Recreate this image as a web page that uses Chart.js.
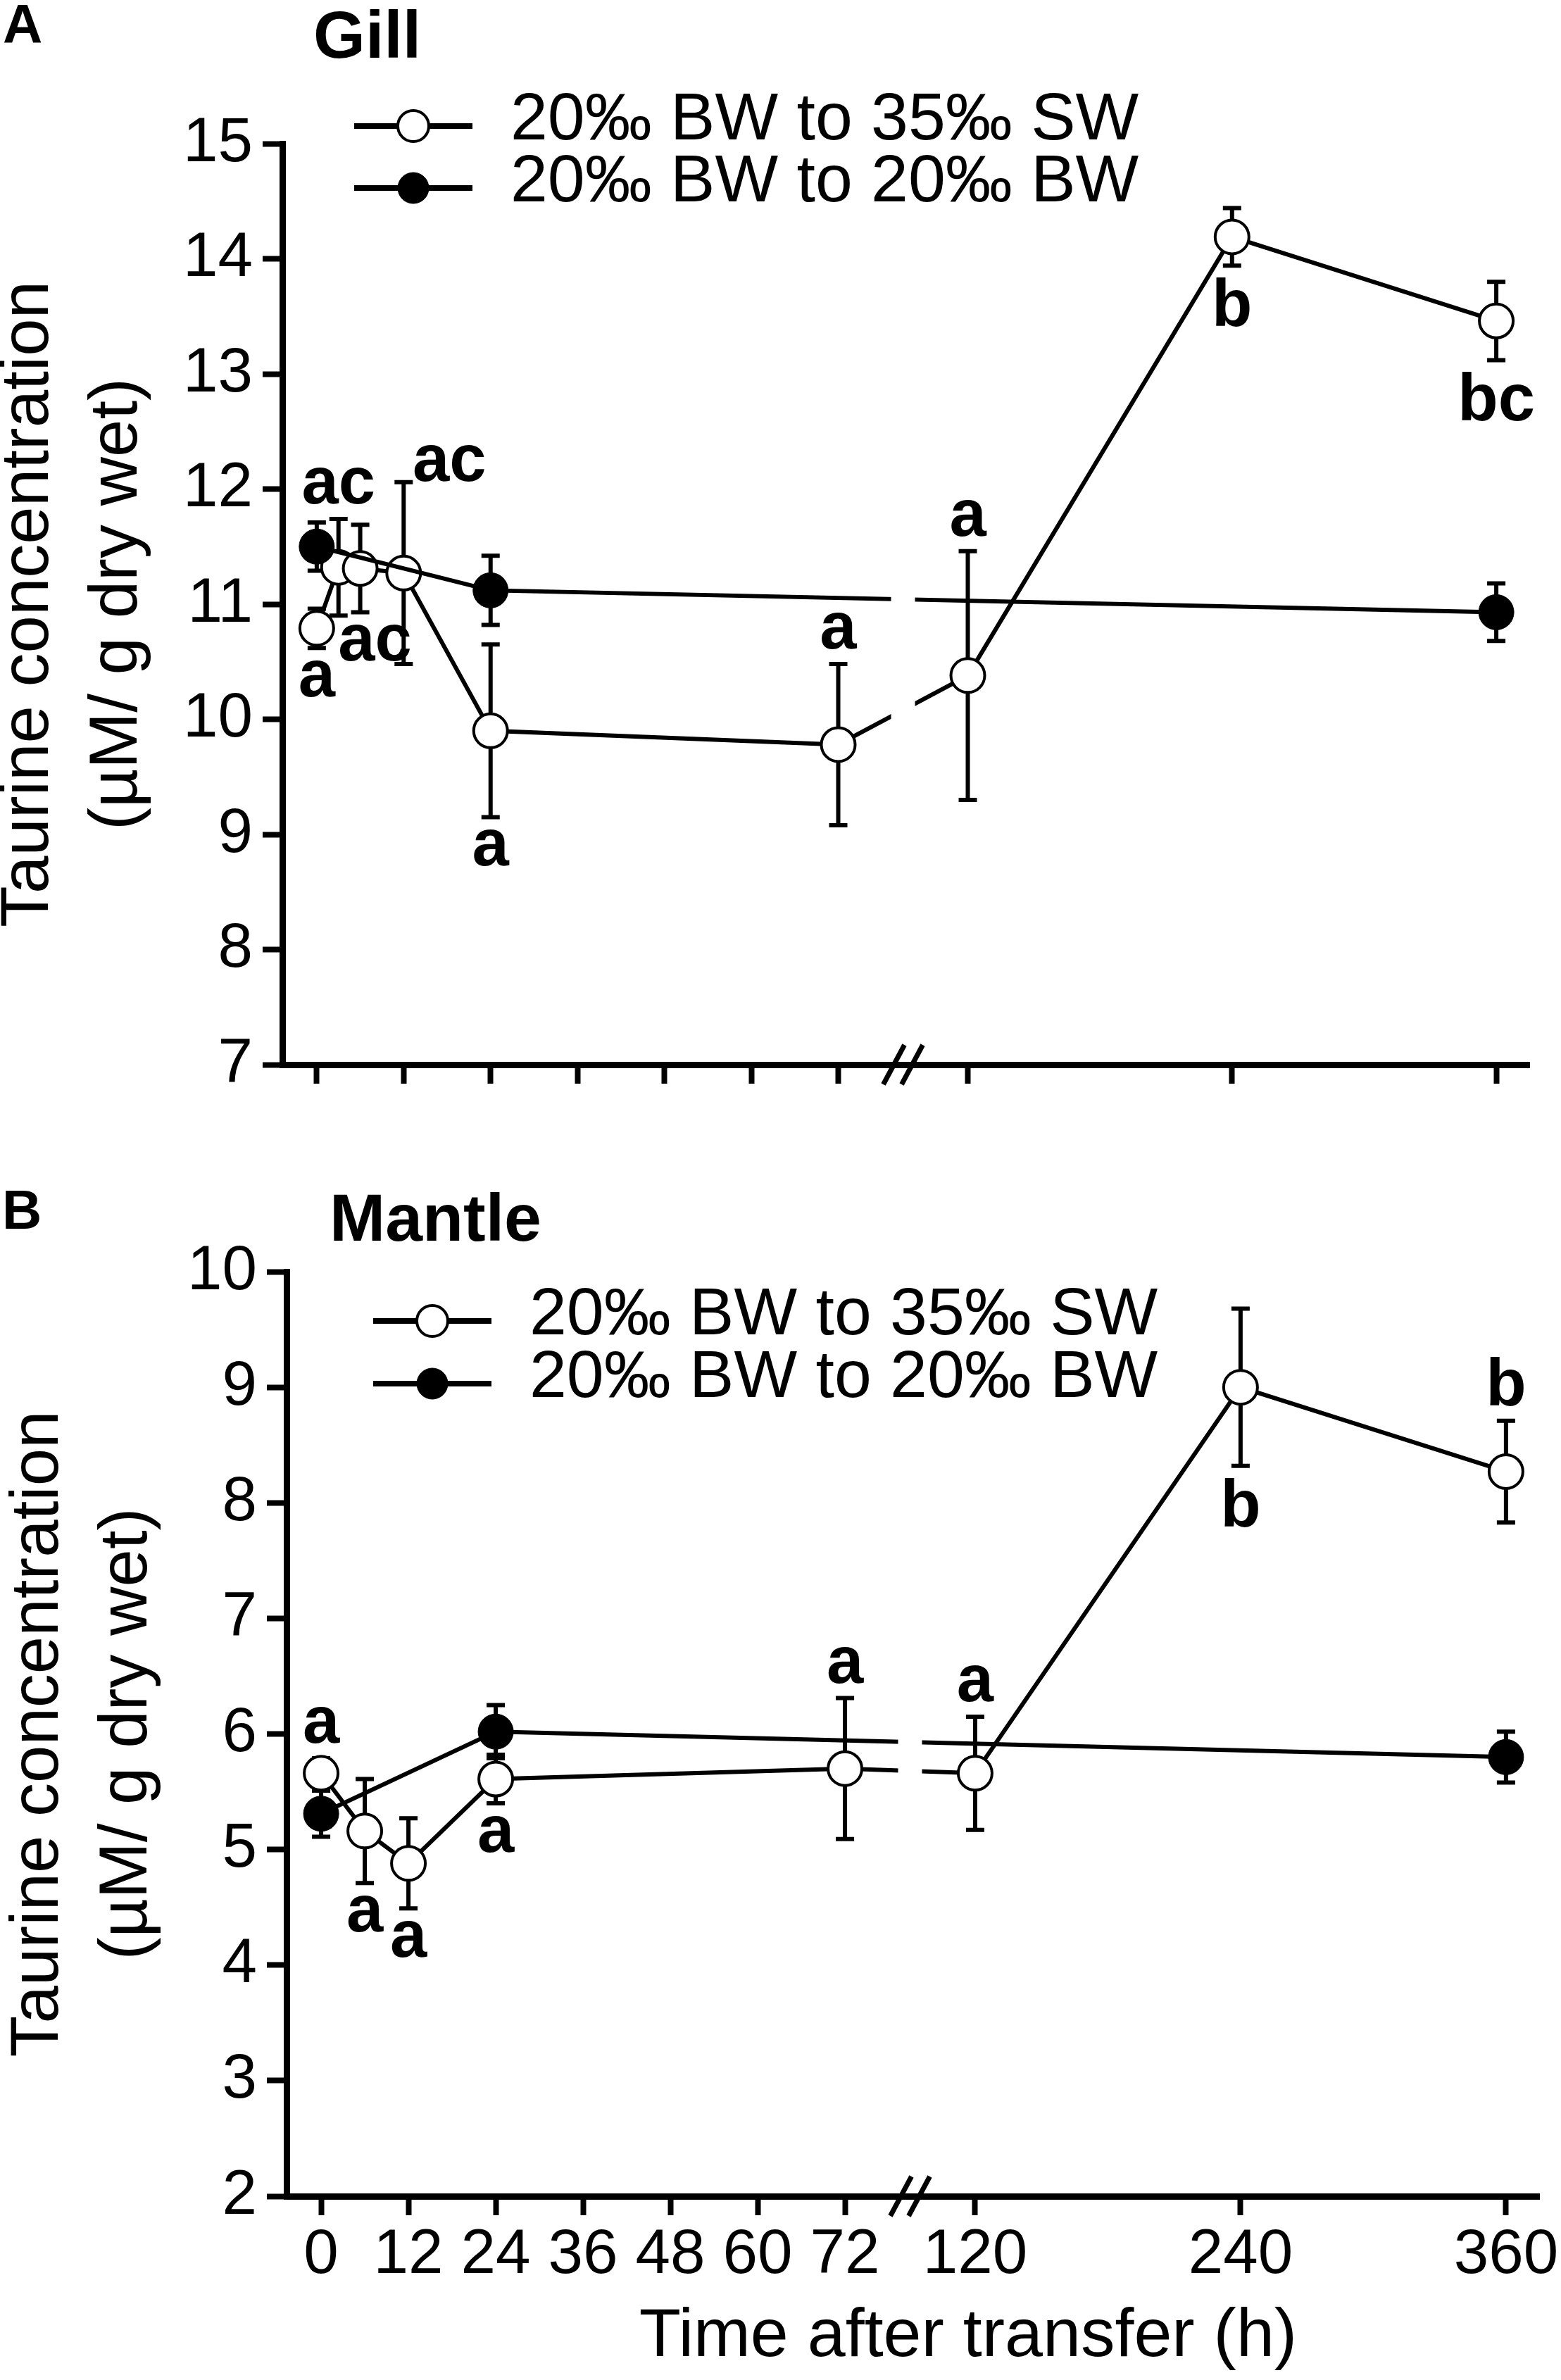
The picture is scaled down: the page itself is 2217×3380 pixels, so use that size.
<!DOCTYPE html>
<html>
<head>
<meta charset="utf-8">
<script src="https://cdn.jsdelivr.net/npm/chart.js@4.4.1/dist/chart.umd.min.js"></script>
<style>
  html, body { margin: 0; padding: 0; background: #fff; }
  canvas { display: block; }
</style>
</head>
<body>
<canvas id="gill" width="2217" height="1600"></canvas>
<canvas id="mantle" width="2217" height="1780"></canvas>
<script>
const hourTicks = [0, 12, 24, 36, 48, 60, 72, 120, 240, 360];
const seriesNames = ['20‰ BW to 35‰ SW', '20‰ BW to 20‰ BW'];
const yTitle = ['Taurine concentration', '(µM/ g dry wet)'];
const xTitle = 'Time after transfer (h)';

// Gill: transfer to sea water (open circles)
const gillSwHours = [0, 3, 6, 12, 24, 72, 120, 240, 360];
const gillSw = [10.79, 11.32, 11.31, 11.27, 9.90, 9.78, 10.38, 14.19, 13.46];
const gillSwSem = [0.17, 0.42, 0.38, 0.79, 0.75, 0.70, 1.08, 0.25, 0.34];
const gillSwLetters = ['a', 'ac', 'ac', 'ac', 'a', 'a', 'a', 'b', 'bc'];
const gillSwLetterSide = ['below', 'above', 'below', 'above', 'below', 'above', 'above', 'below', 'below'];

// control, kept in brackish water (filled circles)
const bwHours = [0, 24, 360];
const gillBw = [11.50, 11.12, 10.93];
const gillBwSem = [0.21, 0.30, 0.25];

// Mantle
const mantleSwHours = [0, 6, 12, 24, 72, 120, 240, 360];
const mantleSw = [5.66, 5.16, 4.88, 5.61, 5.70, 5.66, 9.00, 8.27];
const mantleSwSem = [0.13, 0.45, 0.39, 0.21, 0.61, 0.49, 0.68, 0.44];
const mantleSwLetters = ['a', 'a', 'a', 'a', 'a', 'a', 'b', 'b'];
const mantleSwLetterSide = ['above', 'below', 'below', 'below', 'above', 'above', 'below', 'above'];
const mantleBw = [5.31, 6.02, 5.80];
const mantleBwSem = [0.20, 0.23, 0.22];

const FONT = '"Liberation Sans", Arial, Helvetica, sans-serif';
Chart.defaults.font.family = FONT;
Chart.defaults.color = '#000';

// linear axis with a break between two hour ranges
class BrokenScale extends Chart.LinearScale {
  buildTicks() {
    this.start = this.min;
    this.end = this.max;
    return this.options.tickValues.map(v => ({ value: v }));
  }
  toDecimal(v) {
    const s = this.options.split;
    if (v <= s.gapFrom) return (v - this.min) / (s.gapFrom - this.min) * s.gapStart;
    if (v >= s.gapTo) return s.gapEnd + (v - s.gapTo) / (this.max - s.gapTo) * (1 - s.gapEnd);
    return s.gapStart + (v - s.gapFrom) / (s.gapTo - s.gapFrom) * (s.gapEnd - s.gapStart);
  }
  getPixelForValue(v) {
    return this.getPixelForDecimal(this.toDecimal(v));
  }
  getValueForPixel(p) {
    const s = this.options.split;
    const d = this.getDecimalForPixel(p);
    if (d <= s.gapStart) return this.min + d / s.gapStart * (s.gapFrom - this.min);
    if (d >= s.gapEnd) return s.gapTo + (d - s.gapEnd) / (1 - s.gapEnd) * (this.max - s.gapTo);
    return s.gapFrom + (d - s.gapStart) / (s.gapEnd - s.gapStart) * (s.gapTo - s.gapFrom);
  }
}
BrokenScale.id = 'broken';
BrokenScale.defaults = {};
Chart.register(BrokenScale);

const errorBars = {
  id: 'errorBars',
  beforeDatasetsDraw(chart, args, opts) {
    const ctx = chart.ctx, y = chart.scales.y;
    ctx.save();
    ctx.strokeStyle = '#000';
    ctx.lineWidth = opts.width;
    chart.data.datasets.forEach((ds, i) => {
      chart.getDatasetMeta(i).data.forEach((pt, j) => {
        const v = ds.data[j].y, e = ds.sem[j];
        const top = y.getPixelForValue(v + e), bot = y.getPixelForValue(v - e);
        ctx.beginPath();
        ctx.moveTo(pt.x, top); ctx.lineTo(pt.x, bot);
        ctx.moveTo(pt.x - opts.cap, top); ctx.lineTo(pt.x + opts.cap, top);
        ctx.moveTo(pt.x - opts.cap, bot); ctx.lineTo(pt.x + opts.cap, bot);
        ctx.stroke();
      });
    });
    ctx.restore();
  },
  afterDatasetsDraw(chart, args, opts) {
    const ctx = chart.ctx, y = chart.scales.y;
    ctx.save();
    ctx.fillStyle = '#000';
    ctx.font = 'bold 94px ' + FONT;
    ctx.textAlign = 'center';
    ctx.textBaseline = 'alphabetic';
    chart.data.datasets.forEach((ds, i) => {
      if (!ds.letters) return;
      const pts = chart.getDatasetMeta(i).data;
      ds.letters.forEach((txt, j) => {
        const v = ds.data[j].y, e = ds.sem[j];
        const nudge = (opts.nudge && opts.nudge[j]) || [0, 0];
        let base;
        if (ds.letterSide[j] === 'above') {
          base = y.getPixelForValue(v + e) - 22;
        } else {
          base = y.getPixelForValue(v - e) + 20 + (/[bdhkl]/.test(txt) ? 66 : 49);
        }
        ctx.fillText(txt, pts[j].x + nudge[0], base + nudge[1]);
      });
    });
    ctx.restore();
  }
};

const panelDecor = {
  id: 'panelDecor',
  afterDatasetsDraw(chart, args, opts) {
    // open the lines where they cross the axis break
    const x = chart.scales.x, area = chart.chartArea, ctx = chart.ctx;
    const s = x.options.split;
    const cx = (x.getPixelForValue(s.gapFrom) + x.getPixelForValue(s.gapTo)) / 2;
    ctx.save();
    ctx.fillStyle = '#fff';
    ctx.fillRect(cx - 17, area.top, 34, area.bottom - area.top - 6);
    ctx.restore();
  },
  afterDraw(chart, args, opts) {
    const x = chart.scales.x, area = chart.chartArea, ctx = chart.ctx;
    const s = x.options.split;
    const cx = (x.getPixelForValue(s.gapFrom) + x.getPixelForValue(s.gapTo)) / 2;
    ctx.save();
    ctx.strokeStyle = '#000';
    ctx.lineWidth = 7;
    [-13, 13].forEach(off => {
      ctx.beginPath();
      ctx.moveTo(cx + off - 15, area.bottom + 28);
      ctx.lineTo(cx + off + 15, area.bottom - 28);
      ctx.stroke();
    });

    // legend: line with the marker through it
    const lg = opts.legend;
    ctx.font = '95px ' + FONT;
    ctx.textAlign = 'left';
    ctx.textBaseline = 'middle';
    chart.data.datasets.forEach((ds, i) => {
      const yy = lg.rows[i];
      ctx.lineWidth = 8;
      ctx.beginPath();
      ctx.moveTo(lg.x0, yy); ctx.lineTo(lg.x1, yy);
      ctx.stroke();
      ctx.beginPath();
      ctx.arc((lg.x0 + lg.x1) / 2, yy, 22, 0, Math.PI * 2);
      ctx.fillStyle = ds.pointBackgroundColor;
      ctx.fill();
      ctx.lineWidth = ds.pointBorderWidth;
      ctx.stroke();
      ctx.fillStyle = '#000';
      ctx.fillText(ds.label, lg.textX, yy - 7);
    });

    ctx.textBaseline = 'alphabetic';
    ctx.font = 'bold 78px ' + FONT;
    ctx.fillText(opts.letter.text, opts.letter.x, opts.letter.y);
    ctx.font = 'bold 95px ' + FONT;
    ctx.fillText(opts.name.text, opts.name.x, opts.name.y);
    if (opts.xTitle) {
      ctx.font = '97px ' + FONT;
      ctx.textAlign = 'center';
      ctx.fillText(opts.xTitle.text, opts.xTitle.x, opts.xTitle.y);
    }
    ctx.restore();
  }
};

const toPoints = (hours, values) => hours.map((h, i) => ({ x: h, y: values[i] }));

function buildPanel(canvasId, p) {
  const canvas = document.getElementById(canvasId);
  return new Chart(canvas, {
    type: 'line',
    data: {
      datasets: [{
        label: seriesNames[0],
        data: toPoints(p.swHours, p.sw),
        sem: p.swSem,
        letters: p.letters,
        letterSide: p.letterSide,
        borderColor: '#000',
        borderWidth: 6,
        pointRadius: 24,
        pointBackgroundColor: '#fff',
        pointBorderColor: '#000',
        pointBorderWidth: 4,
        tension: 0,
        clip: false,
        order: 1
      }, {
        label: seriesNames[1],
        data: toPoints(bwHours, p.bw),
        sem: p.bwSem,
        borderColor: '#000',
        borderWidth: 6,
        pointRadius: 25,
        pointBackgroundColor: '#000',
        pointBorderColor: '#000',
        pointBorderWidth: 1,
        tension: 0,
        clip: false,
        order: 0
      }]
    },
    options: {
      responsive: false,
      devicePixelRatio: 1,
      animation: false,
      events: [],
      layout: { padding: { top: p.top, right: p.right, left: 0, bottom: 0 } },
      plugins: {
        legend: { display: false },
        tooltip: { enabled: false },
        errorBars: { width: 6, cap: 13, nudge: p.nudge },
        panelDecor: { legend: p.legend, letter: p.letter, name: p.name, xTitle: p.xTitle }
      },
      scales: {
        x: {
          type: 'broken',
          min: -4.75,
          max: 375,
          tickValues: hourTicks,
          split: { gapFrom: 72, gapTo: 120, gapStart: 0.4458, gapEnd: 0.5497 },
          border: { color: '#000', width: 9 },
          grid: { drawOnChartArea: false, drawTicks: true, tickLength: 27, tickWidth: 8, tickColor: '#000' },
          ticks: {
            display: p.showHours,
            autoSkip: false,
            maxRotation: 0,
            padding: 4,
            font: { size: 89 },
            callback: v => String(v)
          },
          afterFit: sc => { sc.height = p.xHeight; sc.paddingLeft = 0; sc.paddingRight = 0; }
        },
        y: {
          min: p.yMin,
          max: p.yMax,
          border: { color: '#000', width: 9 },
          grid: { drawOnChartArea: false, drawTicks: true, tickLength: 28, tickWidth: 8, tickColor: '#000' },
          ticks: { stepSize: 1, padding: 14, font: { size: 89 } },
          title: {
            display: true,
            text: yTitle,
            font: { size: 96, lineHeight: 1.31 },
            padding: { top: p.titlePad, bottom: 0 }
          },
          afterFit: sc => { sc.width = p.yWidth; sc.paddingTop = 0; sc.paddingBottom = 0; }
        }
      }
    },
    plugins: [errorBars, panelDecor]
  });
}

buildPanel('gill', {
  swHours: gillSwHours, sw: gillSw, swSem: gillSwSem,
  letters: gillSwLetters, letterSide: gillSwLetterSide,
  bw: gillBw, bwSem: gillBwSem,
  yMin: 7, yMax: 15,
  top: 204, right: 45, yWidth: 401, xHeight: 88, titlePad: -21,
  showHours: false,
  nudge: { 2: [21, 0], 3: [65, 20] },
  legend: { x0: 503, x1: 671, textX: 725, rows: [179, 267] },
  letter: { text: 'A', x: 4, y: 61 },
  name: { text: 'Gill', x: 445, y: 82 },
  xTitle: null
});

buildPanel('mantle', {
  swHours: mantleSwHours, sw: mantleSw, swSem: mantleSwSem,
  letters: mantleSwLetters, letterSide: mantleSwLetterSide,
  bw: mantleBw, bwSem: mantleBwSem,
  yMin: 2, yMax: 10,
  top: 206, right: 31, yWidth: 407, xHeight: 261, titlePad: -7,
  showHours: true,
  nudge: null,
  legend: { x0: 530, x1: 698, textX: 752, rows: [276, 365] },
  letter: { text: 'B', x: 3, y: 145 },
  name: { text: 'Mantle', x: 468, y: 162 },
  xTitle: { text: xTitle, x: 1375, y: 1746 }
});
</script>
</body>
</html>
